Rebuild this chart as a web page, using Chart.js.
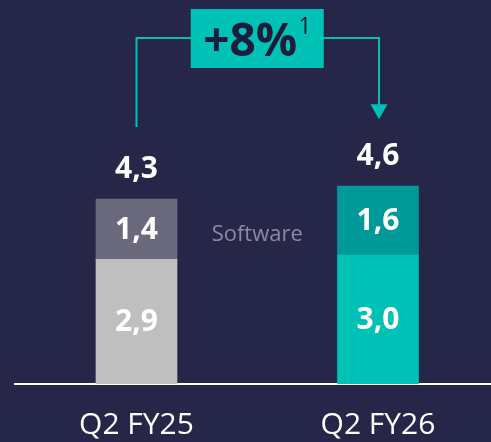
<!DOCTYPE html>
<html><head><meta charset="utf-8">
<script src="https://cdn.jsdelivr.net/npm/chart.js@4/dist/chart.umd.min.js"></script>
<style>
html,body{margin:0;padding:0;background:#262648;}
#wrap{width:491px;height:442px;position:relative;}
</style></head>
<body><div id="wrap"><canvas id="c" width="491" height="442"></canvas></div>
<script>
const categories = ['Q2 FY25', 'Q2 FY26'];
const baseValues = [2.9, 3.0];
const softwareValues = [1.4, 1.6];
const totals = [4.3, 4.6];
const growthLabel = '+8%';
const growthNote = '1';
const softwareLabel = 'Software';

const fmt = v => v.toFixed(1).replace('.', ',');

const labelPlugin = {
  id: 'labels',
  afterDatasetsDraw(chart) {
    const ctx = chart.ctx;
    const m0 = chart.getDatasetMeta(0).data;
    const m1 = chart.getDatasetMeta(1).data;
    ctx.save();
    ctx.textAlign = 'center';
    ctx.textBaseline = 'middle';
    ctx.fillStyle = '#ffffff';
    ctx.font = 'bold 30px "Open Sans"';
    [m0, m1].forEach((els, di) => {
      const vals = di === 0 ? baseValues : softwareValues;
      els.forEach((el, i) => {
        const top = Math.min(el.y, el.base), bot = Math.max(el.y, el.base);
        ctx.fillText(fmt(vals[i]), el.x, (top + bot) / 2 + 1);
      });
    });
    m1.forEach((el, i) => {
      ctx.fillText(fmt(totals[i]), el.x, el.y - 30);
    });
    const s0 = m1[0];
    const midX = (m1[0].x + m1[1].x) / 2;
    ctx.font = '22px "Open Sans"';
    ctx.fillStyle = '#8a8aa2';
    ctx.fillText(softwareLabel, midX, (s0.y + s0.base) / 2 + 6);

    const lineY = 38;
    const boxW = 133, boxH = 59;
    const x1 = m1[0].x, x2 = m1[1].x + 1;
    const y1 = m1[0].y - 72;
    const tip = m1[1].y - 67;
    ctx.strokeStyle = '#00c1b5';
    ctx.lineWidth = 2;
    ctx.beginPath();
    ctx.moveTo(x1, y1); ctx.lineTo(x1, lineY); ctx.lineTo(x2, lineY); ctx.lineTo(x2, tip - 14);
    ctx.stroke();
    ctx.fillStyle = '#00c1b5';
    ctx.beginPath();
    ctx.moveTo(x2 - 8.5, tip - 15); ctx.lineTo(x2 + 8.5, tip - 15); ctx.lineTo(x2, tip); ctx.closePath();
    ctx.fill();
    ctx.fillRect(midX - boxW / 2, lineY - boxH / 2 + 0.5, boxW, boxH);
    ctx.fillStyle = '#1c1c3c';
    ctx.textAlign = 'left';
    ctx.textBaseline = 'alphabetic';
    ctx.font = 'bold 46px "Open Sans"';
    const w = ctx.measureText(growthLabel).width;
    ctx.font = '23px "Open Sans"';
    const w2 = ctx.measureText(growthNote).width;
    const sx = midX - (w + w2 + 1) / 2;
    ctx.font = 'bold 46px "Open Sans"';
    ctx.fillText(growthLabel, sx, 56);
    ctx.font = '23px "Open Sans"';
    ctx.fillText(growthNote, sx + w + 1, 34);
    ctx.restore();
  }
};

new Chart(document.getElementById('c'), {
  type: 'bar',
  data: {
    datasets: [
      { data: baseValues.map((v, i) => ({ x: i, y: v })), backgroundColor: ['#bfbfbf', '#00c1b5'], barThickness: 81 },
      { data: softwareValues.map((v, i) => ({ x: i, y: v })), backgroundColor: ['#6b6a7c', '#009999'], barThickness: 81 }
    ]
  },
  options: {
    responsive: false,
    animation: false,
    layout: { padding: { left: 15, right: 0, top: 0, bottom: 0 } },
    plugins: { legend: { display: false }, tooltip: { enabled: false } },
    scales: {
      x: {
        type: 'linear', stacked: true, min: -0.5031, max: 1.4679, offset: false, bounds: 'ticks',
        afterBuildTicks: s => { s.ticks = categories.map((c, i) => ({ value: i })); },
        afterFit: s => { s.height = 58; },
        ticks: { color: '#ffffff', font: { family: 'Open Sans', size: 30 }, padding: 23, autoSkip: false, maxRotation: 0,
          callback: v => categories[v] },
        grid: { display: false, drawTicks: false, offset: false },
        border: { display: true, color: '#ffffff', width: 2 }
      },
      y: { stacked: true, display: false, min: 0, max: 384 / 43 }
    }
  },
  plugins: [labelPlugin]
});
</script></body></html>
